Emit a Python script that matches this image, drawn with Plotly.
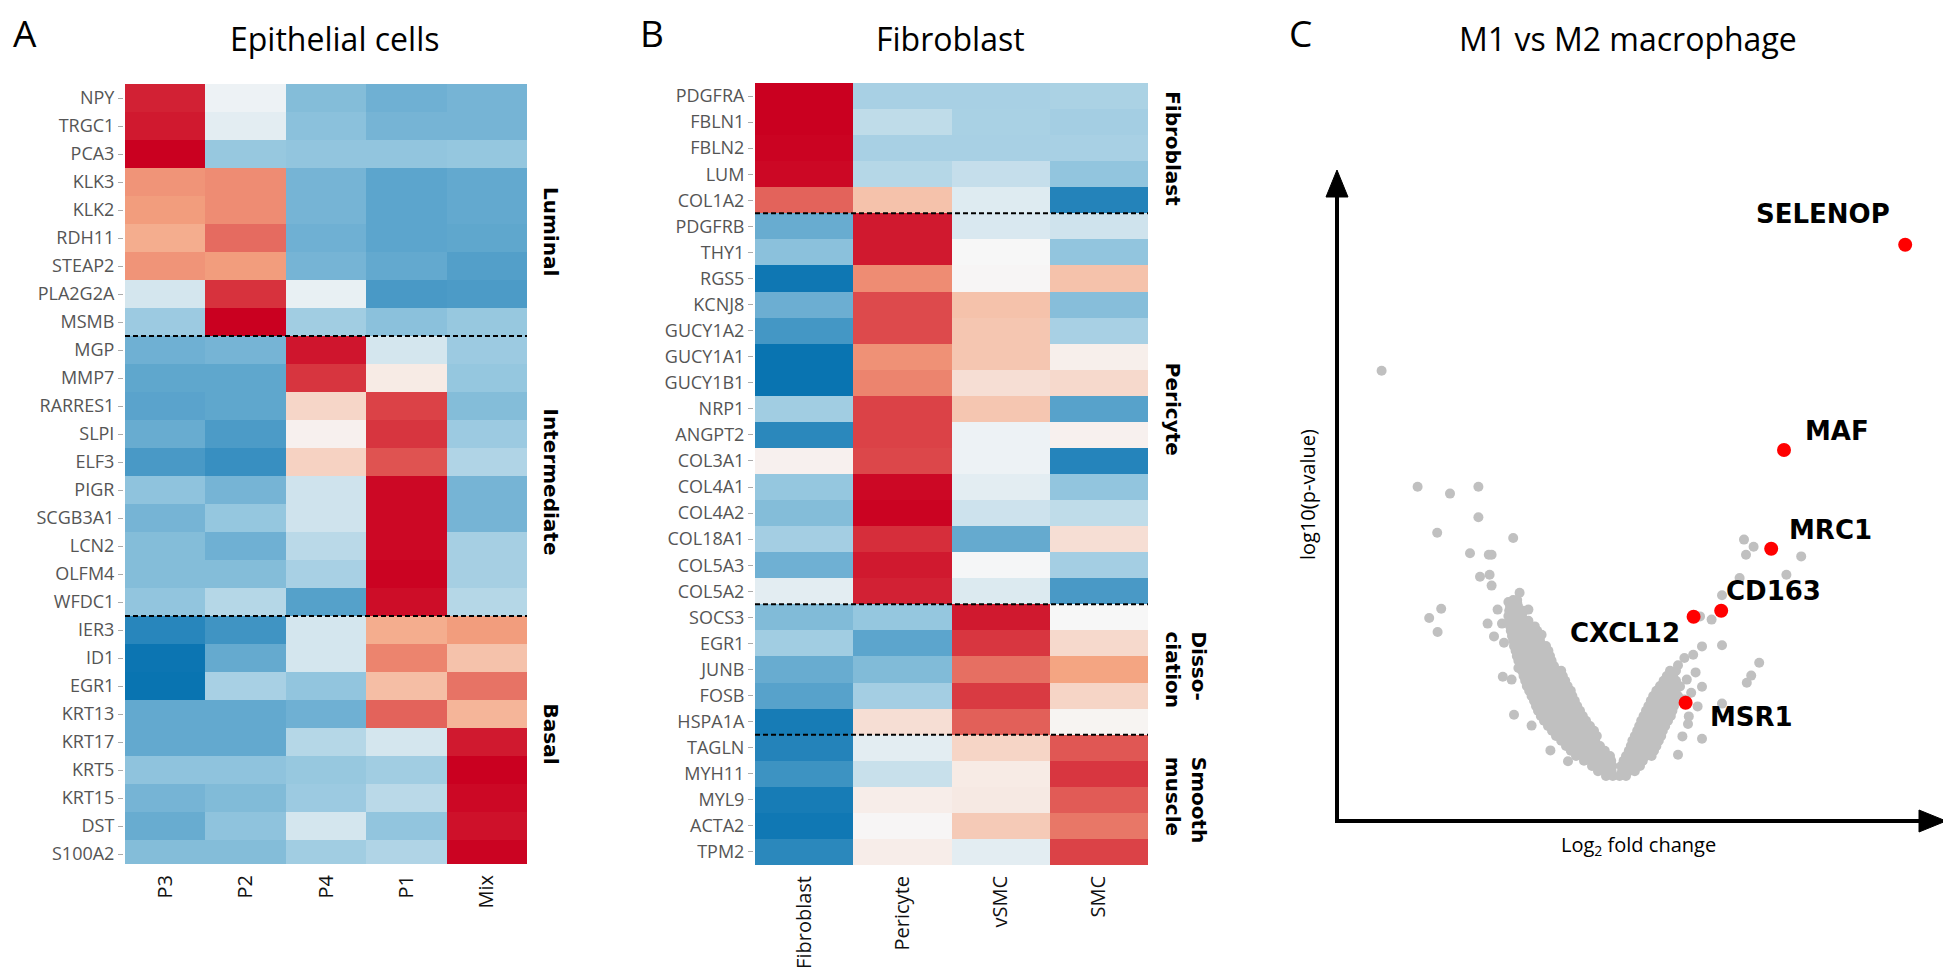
import plotly.graph_objects as go

W, H = 1951, 972

# ---------------- Panel A : Epithelial cells ----------------
epi_genes = ["NPY", "TRGC1", "PCA3", "KLK3", "KLK2", "RDH11", "STEAP2", "PLA2G2A", "MSMB",
             "MGP", "MMP7", "RARRES1", "SLPI", "ELF3", "PIGR", "SCGB3A1", "LCN2", "OLFM4", "WFDC1",
             "IER3", "ID1", "EGR1", "KRT13", "KRT17", "KRT5", "KRT15", "DST", "S100A2"]
epi_cols = ["P3", "P2", "P4", "P1", "Mix"]
epi_z = [
    [1.80, -0.10, -1.10, -1.25, -1.20],   # NPY
    [1.85, -0.20, -1.05, -1.20, -1.20],   # TRGC1
    [2.00, -0.95, -1.00, -1.00, -0.97],   # PCA3
    [1.10, 1.15, -1.20, -1.38, -1.33],    # KLK3
    [1.05, 1.15, -1.20, -1.38, -1.33],    # KLK2
    [0.90, 1.35, -1.25, -1.38, -1.36],    # RDH11
    [1.10, 1.05, -1.20, -1.33, -1.45],    # STEAP2
    [-0.35, 1.70, -0.15, -1.52, -1.50],   # PLA2G2A
    [-0.90, 2.00, -0.85, -1.05, -0.95],   # MSMB
    [-1.25, -1.20, 1.87, -0.35, -0.90],   # MGP
    [-1.36, -1.36, 1.68, 0.15, -0.97],    # MMP7
    [-1.40, -1.36, 0.40, 1.60, -1.10],    # RARRES1
    [-1.30, -1.50, 0.08, 1.68, -0.90],    # SLPI
    [-1.52, -1.64, 0.45, 1.50, -0.70],    # ELF3
    [-1.02, -1.20, -0.40, 1.95, -1.20],   # PIGR
    [-1.20, -0.97, -0.40, 1.95, -1.20],   # SCGB3A1
    [-1.10, -1.25, -0.60, 1.95, -0.80],   # LCN2
    [-1.10, -1.10, -0.78, 1.98, -0.80],   # OLFM4
    [-1.00, -0.65, -1.43, 1.92, -0.65],   # WFDC1
    [-1.75, -1.58, -0.35, 0.90, 1.05],    # IER3
    [-1.95, -1.32, -0.35, 1.20, 0.65],    # ID1
    [-1.97, -0.78, -1.00, 0.70, 1.30],    # EGR1
    [-1.33, -1.33, -1.25, 1.40, 0.80],    # KRT13
    [-1.33, -1.33, -0.65, -0.35, 1.85],   # KRT17
    [-1.02, -1.02, -0.95, -0.85, 2.00],   # KRT5
    [-1.20, -1.12, -0.90, -0.60, 1.95],   # KRT15
    [-1.30, -1.02, -0.35, -1.00, 1.90],   # DST
    [-1.10, -1.10, -0.85, -0.70, 1.98],   # S100A2
]
epi_sections = ["Luminal", "Intermediate", "Basal"]
epi_section_sizes = [9, 10, 9]
epi_label_rows = [4.75, 13.7, 22.7]

# ---------------- Panel B : Fibroblast ----------------
fib_genes = ["PDGFRA", "FBLN1", "FBLN2", "LUM", "COL1A2",
             "PDGFRB", "THY1", "RGS5", "KCNJ8", "GUCY1A2", "GUCY1A1", "GUCY1B1", "NRP1", "ANGPT2",
             "COL3A1", "COL4A1", "COL4A2", "COL18A1", "COL5A3", "COL5A2",
             "SOCS3", "EGR1", "JUNB", "FOSB", "HSPA1A",
             "TAGLN", "MYH11", "MYL9", "ACTA2", "TPM2"]
fib_cols = ["Fibroblast", "Pericyte", "vSMC", "SMC"]
fib_z = [
    [2.00, -0.78, -0.78, -0.75],   # PDGFRA
    [2.00, -0.55, -0.77, -0.82],   # FBLN1
    [1.98, -0.78, -0.78, -0.78],   # FBLN2
    [1.95, -0.65, -0.50, -1.00],   # LUM
    [1.40, 0.65, -0.25, -1.78],    # COL1A2
    [-1.30, 1.85, -0.30, -0.40],   # PDGFRB
    [-1.05, 1.85, 0.00, -1.00],    # THY1
    [-1.93, 1.15, 0.02, 0.65],     # RGS5
    [-1.27, 1.55, 0.65, -1.08],    # KCNJ8
    [-1.55, 1.55, 0.60, -0.78],    # GUCY1A2
    [-1.97, 1.12, 0.60, 0.10],     # GUCY1A1
    [-1.97, 1.20, 0.30, 0.37],     # GUCY1B1
    [-0.85, 1.60, 0.60, -1.42],    # NRP1
    [-1.73, 1.60, -0.10, 0.08],    # ANGPT2
    [0.08, 1.57, -0.10, -1.77],    # COL3A1
    [-0.97, 1.95, -0.20, -1.00],   # COL4A1
    [-1.10, 1.98, -0.42, -0.55],   # COL4A2
    [-0.82, 1.72, -1.32, 0.30],    # COL18A1
    [-1.25, 1.85, -0.02, -0.82],   # COL5A3
    [-0.20, 1.80, -0.27, -1.52],   # COL5A2
    [-1.12, -0.97, 1.85, 0.00],    # SOCS3
    [-0.85, -1.38, 1.67, 0.37],    # EGR1
    [-1.30, -1.12, 1.33, 1.00],    # JUNB
    [-1.42, -0.82, 1.65, 0.42],    # FOSB
    [-1.87, 0.30, 1.42, 0.04],     # HSPA1A
    [-1.78, -0.20, 0.42, 1.47],    # TAGLN
    [-1.60, -0.47, 0.15, 1.67],    # MYH11
    [-1.87, 0.12, 0.17, 1.45],     # MYL9
    [-1.92, 0.02, 0.55, 1.28],     # ACTA2
    [-1.73, 0.12, -0.20, 1.60],    # TPM2
]
fib_sections = ["Fibroblast", "Pericyte", "Disso-<br>ciation", "Smooth<br>muscle"]
fib_section_sizes = [5, 15, 5, 5]

# ---------------- Panel C : volcano ----------------
# (-log10 p level, list of log2 fold changes) for the dense body of genes
gray_rows = [
    (0.00, [-0.30, -0.13, 0.04, 0.20]),
    (0.12, [-0.50, -0.33, -0.16, 0.10, 0.27, 0.42]),
    (0.25, [-0.65, -0.48, -0.31, -0.14, 0.08, 0.24, 0.40, 0.55]),
    (0.38, [-0.85, -0.68, -0.51, -0.34, -0.17, 0.14, 0.30, 0.46, 0.62]),
    (0.50, [-1.05, -0.88, -0.71, -0.54, -0.37, -0.20, 0.20, 0.36, 0.52, 0.70, 0.84]),
    (0.63, [-1.18, -1.01, -0.84, -0.67, -0.50, -0.33, 0.27, 0.43, 0.60, 0.76, 0.90]),
    (0.75, [-1.30, -1.13, -0.96, -0.79, -0.62, -0.45, 0.32, 0.49, 0.66, 0.82, 0.96]),
    (0.88, [-1.42, -1.25, -1.08, -0.91, -0.74, -0.57, 0.36, 0.53, 0.70, 0.86, 1.02]),
    (1.00, [-1.55, -1.38, -1.21, -1.04, -0.87, -0.70, -0.53, 0.42, 0.58, 0.75, 0.92, 1.08]),
    (1.13, [-1.65, -1.48, -1.31, -1.14, -0.97, -0.80, -0.60, 0.48, 0.64, 0.80, 0.96, 1.12]),
    (1.25, [-1.75, -1.58, -1.41, -1.24, -1.07, -0.90, -0.70, 0.53, 0.70, 0.86, 1.02, 1.18]),
    (1.38, [-1.85, -1.68, -1.51, -1.34, -1.17, -1.00, -0.80, 0.58, 0.75, 0.92, 1.08, 1.25]),
    (1.50, [-1.93, -1.76, -1.59, -1.42, -1.25, -1.08, -0.88, 0.64, 0.80, 0.97, 1.14, 1.32]),
    (1.63, [-2.00, -1.83, -1.66, -1.49, -1.32, -1.15, -0.95, 0.70, 0.86, 1.03, 1.20, 1.36]),
    (1.75, [-2.05, -1.88, -1.71, -1.54, -1.37, -1.20, -1.02, 0.76, 0.92, 1.09, 1.26, 1.40]),
    (1.88, [-2.10, -1.93, -1.76, -1.59, -1.42, -1.25, -1.08, 0.82, 0.98, 1.14, 1.30, 1.45]),
    (2.00, [-2.16, -1.99, -1.82, -1.65, -1.48, -1.31, -1.14, 0.88, 1.04, 1.20, 1.36, 1.50]),
    (2.13, [-2.22, -2.05, -1.88, -1.71, -1.54, -1.37, -1.18, 0.96, 1.12, 1.28, 1.44]),
    (2.25, [-2.28, -2.11, -1.94, -1.77, -1.60, -1.43, -1.26, 1.05, 1.20, 1.36, 1.52]),
    (2.38, [-2.32, -2.15, -1.98, -1.81, -1.64, -1.47, -1.32, 1.14, 1.30, 1.45]),
    (2.50, [-2.36, -2.19, -2.02, -1.85, -1.68, -1.51, -1.38, 1.22, 1.38]),
    (2.63, [-2.40, -2.23, -2.06, -1.89, -1.72, -1.55, -1.42, 1.30, 1.45]),
    (2.75, [-2.45, -2.28, -2.11, -1.94, -1.77, -1.60]),
    (2.88, [-2.49, -2.32, -2.15, -1.98, -1.81, -1.66]),
    (3.00, [-2.53, -2.36, -2.19, -2.02, -1.85, -1.70]),
    (3.13, [-2.56, -2.39, -2.22, -2.05, -1.88, -1.74]),
    (3.25, [-2.60, -2.43, -2.26, -2.09, -1.92, -1.80]),
    (3.38, [-2.62, -2.45, -2.28, -2.11, -1.95]),
    (3.50, [-2.65, -2.48, -2.31, -2.14, -1.98]),
    (3.63, [-2.68, -2.51, -2.34, -2.17, -2.02]),
    (3.75, [-2.70, -2.53, -2.36, -2.20]),
    (3.88, [-2.72, -2.55, -2.38, -2.24]),
    (4.00, [-2.74, -2.57, -2.40]),
    (4.13, [-2.72, -2.55, -2.35]),
    (4.25, [-2.70, -2.50]),
    (4.40, [-2.62, -2.52]),
    (4.58, [-2.46]),
]
# scattered genes outside the dense body
outlier_fc = [-5.91, -5.01, -4.20, -3.49, -3.49, -4.52, -2.62, -3.70, -3.23, -3.16, -3.45, -3.21,
              -3.16, -4.72, -4.42, -4.51, -2.74, -3.01, -2.52, -2.24, -3.26, -2.90, -3.10, -2.85,
              -2.49, -2.88, -2.66, -2.60, -2.16, -1.69, -1.25, -1.91, -2.08,
              1.50, 1.66, 1.88, 2.10, 2.60, 1.72, 1.94, 2.10, 2.60, 1.99, 1.77, 1.75, 1.61, 2.10,
              1.50, 3.53, 3.33, 3.22, 2.60, 3.04, 3.15, 3.39, 3.20, 4.21, 4.58, 2.34, 2.05, 1.55,
              1.39, 1.83, 1.66]
outlier_p = [10.13, 7.23, 7.06, 7.23, 6.47, 6.08, 5.95, 5.57, 5.53, 5.53, 4.98, 5.03,
             4.76, 3.95, 4.18, 3.60, 4.35, 4.16, 4.33, 4.16, 3.81, 3.81, 3.49, 3.33,
             2.70, 2.48, 2.41, 1.53, 1.26, 0.64, 0.37, 3.53, 3.74,
             2.77, 2.95, 3.03, 3.24, 3.27, 2.41, 2.59, 2.23, 1.81, 1.74, 1.49, 1.30, 0.99, 0.93,
             0.53, 2.83, 2.51, 2.33, 4.52, 4.95, 5.91, 5.73, 5.53, 5.03, 5.49, 3.91, 3.99, 2.24,
             1.99, 2.08, 1.91]
hl_genes = ["SELENOP", "MAF", "MRC1", "CD163", "CXCL12", "MSR1"]
hl_fc = [7.18, 4.15, 3.83, 2.58, 1.89, 1.69]
hl_p = [13.28, 8.15, 5.68, 4.13, 3.98, 1.83]
# label placement relative to point: (dx, dy, xanchor)
hl_label_pos = [(-0.33, 0.77, "right"), (0.48, 0.48, "left"), (0.40, 0.47, "left"),
                (0.07, 0.50, "left"), (-0.29, -0.40, "right"), (0.56, -0.35, "left")]

vx_range = [-7.025, 8.2]
vy_range = [-1.125, 15.15]

# ---------------- build figure ----------------
colorscale = [[0.0, "#0571b0"], [0.25, "#92c5de"], [0.5, "#f7f7f7"],
              [0.75, "#f4a582"], [1.0, "#ca0020"]]

fig = go.Figure()
fig.add_trace(go.Heatmap(z=epi_z, x=epi_cols, y=epi_genes, colorscale=colorscale,
                         zmin=-2, zmax=2, showscale=False, xaxis="x", yaxis="y"))
fig.add_trace(go.Heatmap(z=fib_z, x=fib_cols, y=fib_genes, colorscale=colorscale,
                         zmin=-2, zmax=2, showscale=False, xaxis="x2", yaxis="y2"))

gx, gy = [], []
for lvl, xs in gray_rows:
    for xv in xs:
        gx.append(xv)
        gy.append(lvl)
gx += outlier_fc
gy += outlier_p
fig.add_trace(go.Scatter(x=gx, y=gy, mode="markers", xaxis="x3", yaxis="y3",
                         marker=dict(color="#c0c0c0", size=10, line=dict(width=0)),
                         hoverinfo="skip", showlegend=False))
fig.add_trace(go.Scatter(x=hl_fc, y=hl_p, mode="markers", xaxis="x3", yaxis="y3",
                         marker=dict(color="#ff0000", size=14, line=dict(width=0)),
                         text=hl_genes, showlegend=False))


def px(x):
    return x / W


def py(y):
    return 1 - y / H


tick_font_y = dict(family="Open Sans", size=18, color="#555555")
tick_font_x = dict(family="Open Sans", size=20, color="#111111")

vol_left, vol_right, vol_top, vol_bottom = 1329, 1938, 162, 813

fig.update_layout(
    width=W, height=H, margin=dict(l=0, r=0, t=0, b=0),
    paper_bgcolor="white", plot_bgcolor="white", showlegend=False,
    xaxis=dict(domain=[px(116), px(520)], tickangle=-90, ticks="", tickfont=tick_font_x,
               showgrid=False, zeroline=False, showline=False, ticklabelstandoff=6,
               anchor="y"),
    yaxis=dict(domain=[py(856), py(76)], range=[len(epi_genes) - 0.5 - 4 / 28, -0.5],
               ticks="outside", ticklen=5, tickcolor="#aaaaaa", tickfont=tick_font_y,
               showgrid=False, zeroline=False, showline=False, anchor="x"),
    xaxis2=dict(domain=[px(746), px(1141)], tickangle=-90, ticks="", tickfont=tick_font_x,
                showgrid=False, zeroline=False, showline=False, ticklabelstandoff=6,
                anchor="y2"),
    yaxis2=dict(domain=[py(857), py(75)], range=[len(fib_genes) - 0.5, -0.5],
                ticks="outside", ticklen=5, tickcolor="#aaaaaa", tickfont=tick_font_y,
                showgrid=False, zeroline=False, showline=False, anchor="x2"),
    xaxis3=dict(domain=[px(vol_left), px(vol_right)], range=vx_range, showticklabels=False,
                ticks="", showgrid=False, zeroline=False, showline=False, anchor="y3"),
    yaxis3=dict(domain=[py(vol_bottom), py(vol_top)], range=vy_range, showticklabels=False,
                ticks="", showgrid=False, zeroline=False, showline=False, anchor="x3"),
)

shapes = []
# dashed section separators
pos = -0.5
for n in epi_section_sizes[:-1]:
    pos += n
    shapes.append(dict(type="line", xref="x", yref="y", x0=-0.5, x1=len(epi_cols) - 0.5,
                       y0=pos, y1=pos, line=dict(color="black", width=2, dash="5px,3px")))
pos = -0.5
for n in fib_section_sizes[:-1]:
    pos += n
    shapes.append(dict(type="line", xref="x2", yref="y2", x0=-0.5, x1=len(fib_cols) - 0.5,
                       y0=pos, y1=pos, line=dict(color="black", width=2, dash="5px,3px")))

# volcano axis arrows (lines + filled heads), in paper units
head_len, head_half = 27, 11
xl, xr_ = px(vol_left), px(vol_right)
yb, yt = py(vol_bottom), py(vol_top)
hl_y = head_len / H
hl_x = head_len / W
hw_x = head_half / W
hw_y = head_half / H
shapes.append(dict(type="line", xref="paper", yref="paper", x0=xl, x1=xl, y0=yb - 2 / H,
                   y1=yt - hl_y + 1 / H, line=dict(color="black", width=4)))
shapes.append(dict(type="line", xref="paper", yref="paper", x0=xl - 2 / W, x1=xr_ - hl_x + 1 / W,
                   y0=yb, y1=yb, line=dict(color="black", width=4)))
shapes.append(dict(type="path", xref="paper", yref="paper",
                   path="M %f %f L %f %f L %f %f Z" % (xl - hw_x, yt - hl_y, xl + hw_x, yt - hl_y,
                                                        xl, yt),
                   fillcolor="black", line=dict(color="black", width=1)))
shapes.append(dict(type="path", xref="paper", yref="paper",
                   path="M %f %f L %f %f L %f %f Z" % (xr_ - hl_x, yb + hw_y, xr_ - hl_x, yb - hw_y,
                                                        xr_, yb),
                   fillcolor="black", line=dict(color="black", width=1)))
fig.update_layout(shapes=shapes)

ann = []
title_font = dict(family="Open Sans", size=32, color="black")
letter_font = dict(family="Open Sans", size=37, color="black")
ann.append(dict(text="A", x=px(3), y=py(25), xref="paper", yref="paper", xanchor="left",
                yanchor="middle", showarrow=False, font=letter_font))
ann.append(dict(text="B", x=px(630), y=py(25), xref="paper", yref="paper", xanchor="left",
                yanchor="middle", showarrow=False, font=letter_font))
ann.append(dict(text="C", x=px(1279), y=py(25), xref="paper", yref="paper", xanchor="left",
                yanchor="middle", showarrow=False, font=letter_font))
ann.append(dict(text="Epithelial cells", x=px(326), y=py(31), xref="paper", yref="paper",
                xanchor="center", yanchor="middle", showarrow=False, font=title_font))
ann.append(dict(text="Fibroblast", x=px(942), y=py(31), xref="paper", yref="paper",
                xanchor="center", yanchor="middle", showarrow=False, font=title_font))
ann.append(dict(text="M1 vs M2 macrophage", x=px(1620), y=py(31), xref="paper", yref="paper",
                xanchor="center", yanchor="middle", showarrow=False, font=title_font))

sec_font = dict(family="DejaVu Sans", size=20, color="black")
for name, row in zip(epi_sections, epi_label_rows):
    ann.append(dict(text="<b>%s</b>" % name, x=px(529), y=row, xref="paper", yref="y",
                    xanchor="left", yanchor="middle", textangle=90, showarrow=False,
                    font=sec_font))
start = 0
for name, n in zip(fib_sections, fib_section_sizes):
    center = start + (n - 1) / 2
    start += n
    ann.append(dict(text="<b>%s</b>" % name, x=px(1151), y=center, xref="paper", yref="y2",
                    xanchor="left", yanchor="middle", textangle=90, showarrow=False,
                    font=sec_font, align="left"))

axis_font = dict(family="Open Sans", size=20, color="black")
ann.append(dict(text="log10(p-value)", x=px(1300), y=py(487), xref="paper", yref="paper",
                xanchor="center", yanchor="middle", textangle=-90, showarrow=False,
                font=axis_font))
ann.append(dict(text="Log<sub>2</sub> fold change", x=px(1630), y=py(837), xref="paper",
                yref="paper", xanchor="center", yanchor="middle", showarrow=False,
                font=axis_font))

lab_font = dict(family="DejaVu Sans", size=26, color="black")
for g, xv, yv, (dx, dy, anc) in zip(hl_genes, hl_fc, hl_p, hl_label_pos):
    ann.append(dict(text="<b>%s</b>" % g, x=xv + dx, y=yv + dy, xref="x3", yref="y3",
                    xanchor=anc, yanchor="middle", showarrow=False, font=lab_font))

fig.update_layout(annotations=ann)
fig.write_html("out.html")
